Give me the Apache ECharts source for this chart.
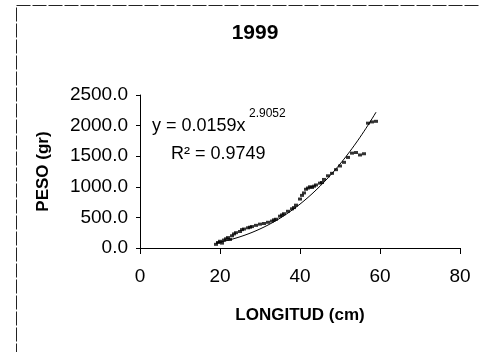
<!DOCTYPE html>
<html>
<head>
<meta charset="utf-8">
<script src="https://cdn.jsdelivr.net/npm/echarts@6/dist/echarts.min.js"></script>
<style>
  html, body { margin: 0; padding: 0; background: #fff; }
  #chart { width: 480px; height: 352px; }
</style>
</head>
<body>
<div id="chart"></div>
<script>
// Length (cm) and weight (g) of the 1999 sample
var longitud = [19, 19.5, 20, 20.5, 21, 21.5, 22, 22.5, 23, 23.5, 24, 25, 25.5, 26, 27, 27.5, 28, 29, 30, 31,
                32, 33, 33.5, 34, 35, 35.5, 36, 37, 38, 38.5, 39, 40, 40.5, 41, 41.5, 42, 42.5, 43, 43.5, 44,
                45, 45.5, 46, 47, 48, 49, 50, 51, 52, 53, 54, 55, 56, 57, 58, 59];
var peso = [60, 90, 110, 80, 130, 150, 170, 140, 200, 230, 250, 270, 300, 310, 330, 340, 350, 370, 390, 400,
            420, 440, 460, 470, 520, 540, 560, 600, 640, 660, 700, 800, 860, 900, 960, 980, 1000, 990, 1010, 1030,
            1060, 1070, 1120, 1180, 1220, 1280, 1340, 1400, 1480, 1550, 1560, 1520, 1540, 2040, 2060, 2070];

// Power trend line y = a * x^b and its fit
var trendCoef = [0.0159, 2.9052];
var trendR2 = 0.9749;

var xTicks = [0, 20, 40, 60, 80];
var yTicks = [0, 500, 1000, 1500, 2000, 2500];

var points = longitud.map(function (l, i) { return [l, peso[i]]; });

// Trend curve evaluated across the measured length range
var trend = [];
var lMin = Math.min.apply(null, longitud), lMax = Math.max.apply(null, longitud);
for (var l = lMin; l <= lMax + 1e-9; l += 0.5) {
  trend.push([l, trendCoef[0] * Math.pow(l, trendCoef[1])]);
}

var FONT = '"Liberation Sans", Arial, sans-serif';
var chart = echarts.init(document.getElementById('chart'), null, { renderer: 'canvas' });

chart.setOption({
  animation: false,
  backgroundColor: '#ffffff',
  grid: { left: 140, right: 20, top: 95, bottom: 104, containLabel: false },
  xAxis: {
    type: 'value',
    min: xTicks[0], max: xTicks[xTicks.length - 1], interval: xTicks[1] - xTicks[0],
    name: 'LONGITUD (cm)', nameLocation: 'middle', nameGap: 59,
    nameTextStyle: { fontFamily: FONT, fontSize: 17, fontWeight: 'bold', color: '#000' },
    axisLine: { show: true, onZero: false, lineStyle: { color: '#000', width: 1 } },
    axisTick: { show: true, inside: false, length: 6, lineStyle: { color: '#000' } },
    axisLabel: { margin: 19, fontFamily: FONT, fontSize: 19, color: '#000' },
    splitLine: { show: false }
  },
  yAxis: {
    type: 'value',
    min: yTicks[0], max: yTicks[yTicks.length - 1], interval: yTicks[1] - yTicks[0],
    name: 'PESO (gr)', nameLocation: 'middle', nameGap: 88,
    nameTextStyle: { fontFamily: FONT, fontSize: 17, fontWeight: 'bold', color: '#000' },
    axisLine: { show: true, onZero: false, lineStyle: { color: '#000', width: 1 } },
    axisTick: { show: true, inside: false, length: 4, lineStyle: { color: '#000' } },
    axisLabel: {
      margin: 12, fontFamily: FONT, fontSize: 19, color: '#000',
      formatter: function (v) { return v.toFixed(1); }
    },
    splitLine: { show: false }
  },
  series: [
    {
      type: 'line',
      data: trend,
      showSymbol: false,
      symbol: 'none',
      lineStyle: { color: '#000', width: 1 },
      z: 2
    },
    {
      type: 'scatter',
      data: points,
      symbol: 'rect',
      symbolSize: [4, 3],
      itemStyle: { color: '#000' },
      z: 3
    }
  ],
  graphic: [
    {
      type: 'rect',
      shape: { x: 16.5, y: 5.5, width: 600, height: 600 },
      style: { fill: 'none', stroke: '#222', lineWidth: 1, lineDash: [14, 2] },
      silent: true
    },
    {
      type: 'text', x: 255, y: 33,
      style: { text: '1999', fontFamily: FONT, fontSize: 21, fontWeight: 'bold', fill: '#000',
               textAlign: 'center', textVerticalAlign: 'middle' }
    },
    {
      type: 'text', x: 152, y: 126,
      style: { text: 'y = ' + trendCoef[0] + 'x', fontFamily: FONT, fontSize: 18, fill: '#000',
               textAlign: 'left', textVerticalAlign: 'middle' }
    },
    {
      type: 'text', x: 249, y: 114,
      style: { text: String(trendCoef[1]), fontFamily: FONT, fontSize: 12, fill: '#000',
               textAlign: 'left', textVerticalAlign: 'middle' }
    },
    {
      type: 'text', x: 171, y: 154,
      style: { text: 'R\u00B2 = ' + trendR2, fontFamily: FONT, fontSize: 18, fill: '#000',
               textAlign: 'left', textVerticalAlign: 'middle' }
    }
  ]
});
</script>
</body>
</html>
